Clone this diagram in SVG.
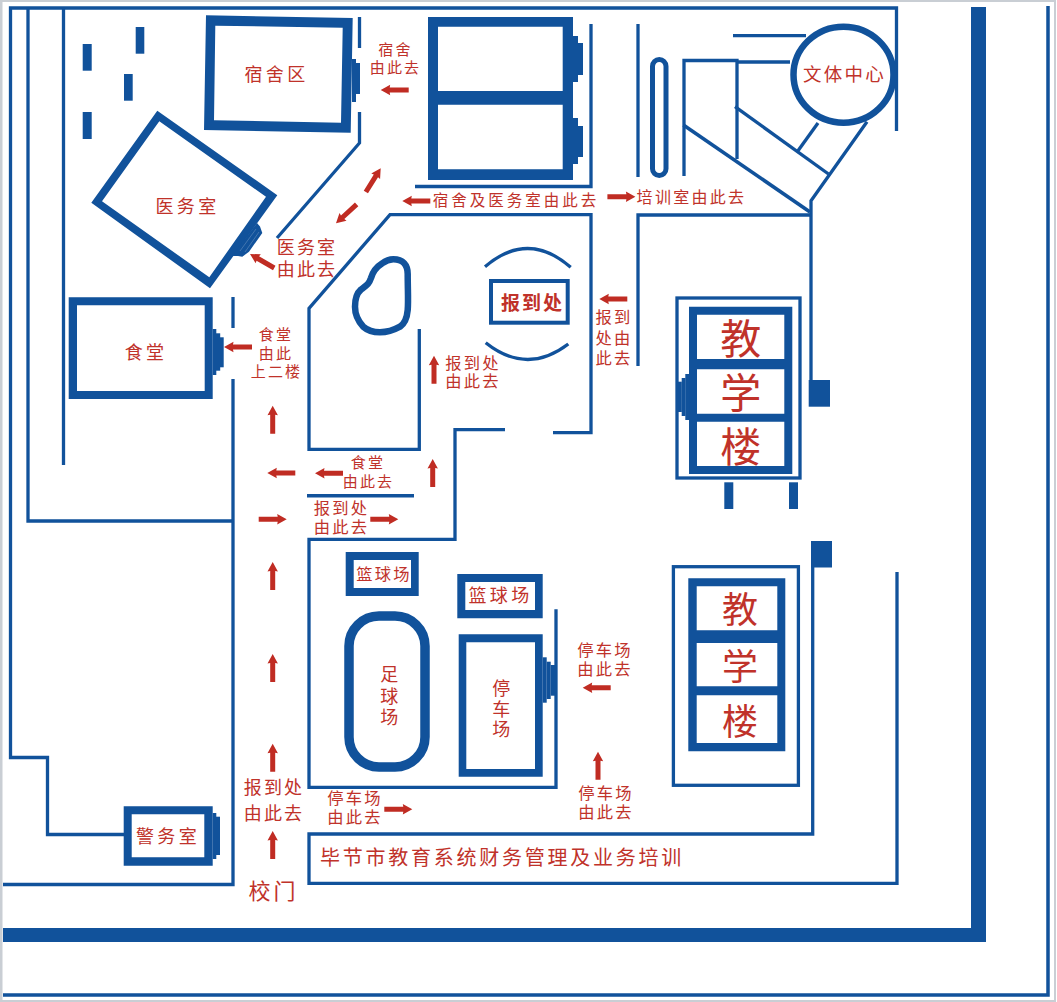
<svg xmlns="http://www.w3.org/2000/svg" width="1057" height="1002" viewBox="0 0 1057 1002">
<style>
.l{fill:none;stroke:#11529b;stroke-width:3.3;stroke-linejoin:miter}
.f{fill:#11529b;fill-rule:evenodd}
.a{fill:#c02c23}
text{font-family:"Noto Sans CJK SC","Noto Sans",sans-serif;fill:#c0322a;text-anchor:middle;dominant-baseline:central}
.s15{font-size:15px;letter-spacing:2.200px}
.s16{font-size:16.300px;letter-spacing:2.200px}
.s17{font-size:18px;letter-spacing:2.200px}
.s18{font-size:18px;letter-spacing:3.300px}
.v{font-size:18px}
</style>
<defs>
<path id="ar" d="M0 0L9.500-5.200L9-2.500L28-2.500L28 2.500L9 2.500L9.500 5.200Z"/>
</defs>
<rect width="1057" height="1002" fill="#fff"/>
<path d="M1 1H1055V1001H1" fill="none" stroke="#c9ced4" stroke-width="2"/>
<rect x="0" y="0" width="2.500" height="1002" fill="#c9ced4"/>

<g id="walls">
<path class="l" d="M896.500 131V8H10.500V757.500H47.500V834.500H124"/>
<path class="l" d="M28 8V521H233"/>
<path class="l" d="M63.500 8V465"/>
<path class="l" d="M233 297V328"/>
<path class="l" d="M233 379V884.500H3"/>
<path class="l" d="M359.500 17V48"/>
<path class="l" d="M359.500 112V143L277 238"/>
<path class="l" d="M415 186.500H591V24"/>
<path class="l" d="M638 24V177"/>
<path class="l" d="M684 176V60.500H737V159"/>
<path class="l" d="M737 62H790"/>
<path class="l" d="M733 35.700H806"/>
<path class="l" d="M683.400 125L810 212" style="stroke-width:3.600"/>
<path class="l" d="M735 106.700L828.500 174"/>
<path class="l" d="M798 150.700L818 123"/>
<path class="l" d="M867 121.700L811 200.700V381"/>
<path class="l" d="M638 366V215H811"/>
<path class="l" d="M419.300 329V449.300H309V308.300L390 214.700H591V432.700H553"/>
<path class="l" d="M307 495.700H414" style="stroke-width:3.600"/>
<path class="l" d="M505 429.700H455V539.300H309V787.300H556V609.300"/>
<path class="l" d="M897 572V883.300H309V834H812.700V567"/>
<path class="l" d="M1048 6V995H3" style="stroke-width:3.500"/>
<rect class="f" x="971" y="7" width="15" height="935"/>
<rect class="f" x="3" y="928" width="983" height="14"/>
<rect class="f" x="808.700" y="380" width="21.300" height="26.700"/>
<rect class="f" x="811" y="541" width="21" height="26.500"/>
<rect class="f" x="82.700" y="44" width="9" height="26.700"/>
<rect class="f" x="135.700" y="27" width="8.600" height="26.700"/>
<rect class="f" x="124" y="74" width="8.700" height="26.700"/>
<rect class="f" x="82.700" y="112" width="9" height="27"/>
<rect class="f" x="724.300" y="482.300" width="9" height="26.700"/>
<rect class="f" x="789" y="482.300" width="9" height="26.700"/>
</g>

<g id="dorm-zone">
<path class="f" d="M206 15.300L352.700 18L350.700 132.700L204 130ZM215.300 25.700L214 120.300L341 122.700L342.700 27.700Z"/>
<rect class="f" x="352" y="59" width="4" height="43"/>
<rect class="f" x="356" y="63" width="4" height="31"/>
<text class="s18" x="276.500" y="72.800">宿舍区</text>
</g>

<g id="dorm-blocks">
<path class="f" d="M428 17H573V180H428ZM438 26.700V91H562.700V26.700ZM438 104.700V169.300H562.700V104.700Z"/>
<rect class="f" x="573" y="36" width="5" height="46"/>
<rect class="f" x="578" y="43" width="5" height="32"/>
<rect class="f" x="573" y="118" width="5" height="46"/>
<rect class="f" x="578" y="126" width="5" height="31"/>
</g>

<g id="clinic">
<path class="f" d="M157.300 110.700L277.300 195.300L210 288.300L91.300 202.700ZM159.300 121.300L102 201.300L209.300 277.300L266 196.700Z"/>
<path class="f" d="M257 223L260 226.500L262.300 233L249 251.700L242.300 256.700L238 256L232 256Z"/>
<path d="M256 229L240 251M259 232L245 252" fill="none" stroke="#fff" stroke-opacity=".35" stroke-width=".6"/>
<text class="s18" x="187.500" y="205">医务室</text>
</g>

<g id="canteen">
<path class="f" d="M68.700 297.300H212.700V399H68.700ZM77 305.300V391H204.700V305.300Z"/>
<rect class="f" x="212.700" y="329" width="3.600" height="46"/>
<rect class="f" x="216" y="333.300" width="4.200" height="37.400"/>
<rect class="f" x="220" y="337.300" width="3.700" height="30"/>
<text class="s18" x="146" y="350.500">食堂</text>
</g>

<g id="guard">
<path class="f" d="M123.700 806.300H212.700V865.700H123.700ZM131.700 814.300V857.300H204.300V814.300Z"/>
<rect class="f" x="212.700" y="813" width="3.600" height="46"/>
<rect class="f" x="216" y="816.700" width="4" height="38.300"/>
<text class="s18" x="168" y="835">警务室</text>
</g>

<g id="sports-center">
<rect x="652.500" y="59.500" width="13.500" height="116" rx="6.750" fill="none" stroke="#11529b" stroke-width="5"/>
<ellipse cx="843.500" cy="74.700" rx="50" ry="48" fill="#fff" stroke="#11529b" stroke-width="6.500"/>
<text x="844.500" y="73" style="font-size:18.500px;letter-spacing:2.300px">文体中心</text>
</g>

<g id="pond">
<path d="M393.300 259.300C403 259.300 407.700 265 407.700 274C407.700 290 408.500 300 407.700 310C407 318 404 324 400 326.700C394 330 387 332.300 380 332.300C372 332.300 367 330 363.300 326.700C358 321 355 314 355 306.700C355 297 357 293 361 289.500C367 285 369 284 371 278C373 271 378 266 382 263.500C386 260.500 390 259.300 393.300 259.300Z" fill="none" stroke="#11529b" stroke-width="6.500"/>
</g>

<g id="registration">
<rect x="491" y="281" width="76.700" height="41.700" fill="none" stroke="#11529b" stroke-width="4"/>
<path d="M485 266.700Q528 230 570.700 267.300" fill="none" stroke="#11529b" stroke-width="3.300"/>
<path d="M485.700 342.700Q527 375.600 568.300 344" fill="none" stroke="#11529b" stroke-width="3.300"/>
<text x="532.500" y="301.500" style="font-size:19px;font-weight:700;letter-spacing:2px">报到处</text>
</g>

<g id="teaching-a">
<rect class="l" x="677" y="298" width="123" height="180"/>
<path class="f" d="M689 306.700H792.300V474H689ZM697 314.700V359H784.300V314.700ZM697 369.300V413.700H784.300V369.300ZM697 421.700V466H784.300V421.700Z"/>
<rect class="f" x="685.300" y="374" width="3.800" height="46"/>
<rect class="f" x="681.700" y="378" width="3.800" height="38"/>
<rect class="f" x="678" y="381.700" width="3.800" height="30.300"/>
<text x="740.700" y="335.800" style="font-size:41px">教</text>
<text x="740.700" y="390.200" style="font-size:41px">学</text>
<text x="740.700" y="443.500" style="font-size:41px">楼</text>
</g>

<g id="teaching-b">
<rect class="l" x="673.400" y="566.700" width="125" height="218.600"/>
<path class="f" d="M688.300 578.300H785.300V751.300H688.300ZM696.700 586.300V630.300H777.300V586.300ZM696.700 643V686.300H777.300V643ZM696.700 695.300V743H777.300V695.300Z"/>
<text x="740" y="606.800" style="font-size:36px">教</text>
<text x="740" y="663.500" style="font-size:36px">学</text>
<text x="740" y="718.500" style="font-size:36px">楼</text>
</g>

<g id="court-1">
<path class="f" d="M345.700 552H418.700V596H345.700ZM353.700 560V588H411V560Z"/>
<text class="s16" x="384" y="573">篮球场</text>
</g>
<g id="court-2">
<path class="f" d="M457.300 574H542.700V618.300H457.300ZM465.300 582V610H535V582Z"/>
<text class="s18" x="500.500" y="594">篮球场</text>
</g>
<g id="football">
<rect x="349" y="616" width="76" height="151" rx="30" fill="none" stroke="#11529b" stroke-width="9.500"/>
<text class="v" x="389.300" y="672.800">足</text>
<text class="v" x="389.300" y="694.500">球</text>
<text class="v" x="389.300" y="715.500">场</text>
</g>
<g id="parking">
<path class="f" d="M458.700 634.300H542.700V776.700H458.700ZM466.300 642.300V769H535V642.300Z"/>
<rect class="f" x="542.700" y="657.300" width="4" height="45.400"/>
<rect class="f" x="546.700" y="661.700" width="4" height="37.300"/>
<rect class="f" x="550.700" y="665" width="4.300" height="30.700"/>
<text class="v" x="501.300" y="686.500">停</text>
<text class="v" x="501.300" y="707.800">车</text>
<text class="v" x="501.300" y="727.800">场</text>
</g>

<g id="arrows" class="a">
<use href="#ar" transform="translate(380.700 90)"/>
<use href="#ar" transform="translate(380.700 168.300) rotate(122)"/>
<use href="#ar" transform="translate(336 223.300) rotate(-42.500)"/>
<use href="#ar" transform="translate(402.300 201)"/>
<use href="#ar" transform="translate(635.400 196.700) rotate(180)"/>
<use href="#ar" transform="translate(250 254) rotate(30)"/>
<use href="#ar" transform="translate(599.300 299)"/>
<use href="#ar" transform="translate(224 347)"/>
<use href="#ar" transform="translate(272.700 405.700) rotate(90)"/>
<use href="#ar" transform="translate(267.300 473)"/>
<use href="#ar" transform="translate(315 473.300)"/>
<use href="#ar" transform="translate(432.700 459) rotate(90)"/>
<use href="#ar" transform="translate(434 355.700) rotate(90)"/>
<use href="#ar" transform="translate(286.700 519.300) rotate(180)"/>
<use href="#ar" transform="translate(398.300 519.300) rotate(180)"/>
<use href="#ar" transform="translate(272.700 562) rotate(90)"/>
<use href="#ar" transform="translate(272.700 654) rotate(90)"/>
<use href="#ar" transform="translate(272.700 743.700) rotate(90)"/>
<use href="#ar" transform="translate(272.700 831) rotate(90)"/>
<use href="#ar" transform="translate(412.300 809.300) rotate(180)"/>
<use href="#ar" transform="translate(582.700 687.700)"/>
<use href="#ar" transform="translate(598 751.700) rotate(90)"/>
</g>

<g id="labels">
<text class="s15" x="395.500" y="48">宿舍</text>
<text class="s15" x="395.500" y="66">由此去</text>
<text class="s17" x="307" y="245.500">医务室</text>
<text class="s17" x="307" y="267.500">由此去</text>
<text x="516" y="199" style="font-size:15.500px;letter-spacing:3px">宿舍及医务室由此去</text>
<text x="691.500" y="196" style="font-size:16px;letter-spacing:2.300px">培训室由此去</text>
<text class="s16" x="614" y="315.500">报到</text>
<text class="s16" x="614" y="336.500">处由</text>
<text class="s16" x="614" y="356.500">此去</text>
<text class="s16" x="473" y="361.800">报到处</text>
<text class="s16" x="473" y="379.500">由此去</text>
<text class="s15" x="276" y="333.800">食堂</text>
<text class="s15" x="276" y="352.800">由此</text>
<text class="s15" x="276.500" y="370.500">上二楼</text>
<text class="s15" x="368" y="461">食堂</text>
<text class="s15" x="368.500" y="480.500">由此去</text>
<text class="s16" x="341.500" y="507">报到处</text>
<text class="s16" x="341.500" y="526">由此去</text>
<text class="s16" x="605" y="648.800">停车场</text>
<text class="s16" x="605" y="668">由此去</text>
<text class="s16" x="606" y="792">停车场</text>
<text class="s16" x="606" y="810.500">由此去</text>
<text class="s16" x="355" y="797">停车场</text>
<text class="s16" x="355" y="815.500">由此去</text>
<text class="s17" x="274" y="785.500">报到处</text>
<text class="s17" x="274" y="812">由此去</text>
<text x="273.500" y="888.500" style="font-size:22px;letter-spacing:3px">校门</text>
<text x="320" y="856.500" style="font-size:20px;letter-spacing:2.750px;text-anchor:start">毕节市教育系统财务管理及业务培训</text>
</g>
</svg>
